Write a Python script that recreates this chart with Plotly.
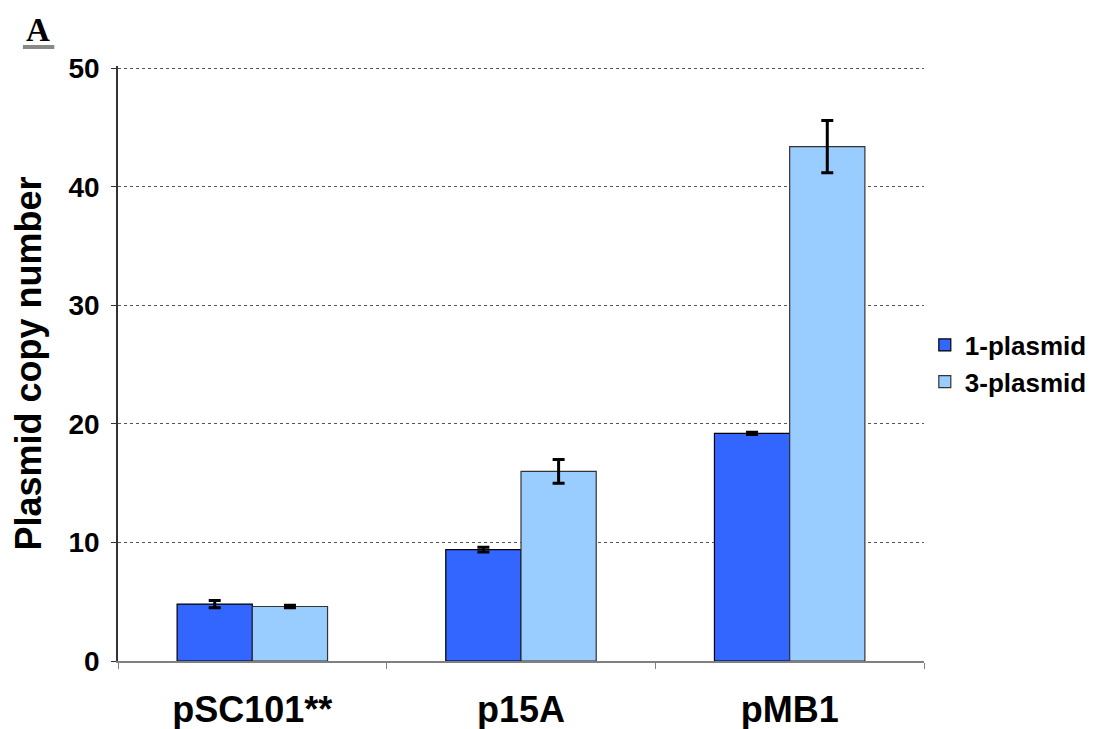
import plotly.graph_objects as go

#### data
plasmids = ["pSC101**", "p15A", "pMB1"]
one_plasmid = [4.8, 9.4, 19.2]
one_plasmid_err = [0.3, 0.2, 0.1]
three_plasmid = [4.6, 16.0, 43.4]
three_plasmid_err = [0.1, 1.0, 2.2]

font_family = "Liberation Sans, Arial, sans-serif"

fig = go.Figure()
fig.add_trace(go.Bar(
    x=plasmids, y=one_plasmid, name="1-plasmid",
    marker=dict(color="#3366ff", line=dict(color="black", width=1.2)),
    error_y=dict(type="data", array=one_plasmid_err, color="black", thickness=3, width=6),
))
fig.add_trace(go.Bar(
    x=plasmids, y=three_plasmid, name="3-plasmid",
    marker=dict(color="#99ccff", line=dict(color="#333333", width=1.2)),
    error_y=dict(type="data", array=three_plasmid_err, color="black", thickness=3, width=6),
))

# page body has an 8px margin, so the figure is a bit smaller than the window
fig.update_layout(
    width=1096, height=721,
    margin=dict(l=110, r=168, t=58, b=68),
    plot_bgcolor="white", paper_bgcolor="white",
    barmode="group", bargap=0.44, bargroupgap=0.0,
    font=dict(family=font_family, color="black"),
    legend=dict(x=1.001, y=0.5, yanchor="middle", xanchor="left",
                font=dict(size=26, family=font_family, weight="bold"), tracegroupgap=0),
    showlegend=True,
)
fig.update_xaxes(
    type="category", tickson="boundaries", ticks="outside", ticklen=6,
    tickcolor="#808080", showline=True, linecolor="#808080", linewidth=1.5,
    tickfont=dict(size=36, family=font_family, weight="bold"), ticklabelstandoff=16,
    automargin=False,
)
# range a little above 50 so the top gridline is not clipped
fig.update_yaxes(
    range=[0, 50.2], tickvals=[0, 10, 20, 30, 40, 50], ticks="outside", ticklen=5, tickcolor="#333333",
    showline=True, linecolor="#333333", linewidth=1.5,
    showgrid=True, gridcolor="#555555", griddash="3px,3px", gridwidth=1,
    tickfont=dict(size=28, family=font_family, weight="bold"), ticklabelstandoff=6,
    title=dict(text="Plasmid copy number", font=dict(size=36, family=font_family, weight="bold"),
               standoff=26),
    zeroline=False, automargin=False,
)

# panel label "A" with gray underline
fig.add_annotation(text="<b>A</b>", xref="paper", yref="paper", x=-0.099, y=1.060,
                   xanchor="center", yanchor="middle", showarrow=False,
                   font=dict(family="Liberation Serif, Times New Roman, serif", size=33))
fig.add_shape(type="line", xref="paper", yref="paper", x0=-0.118, x1=-0.079,
              y0=1.032, y1=1.032, line=dict(color="#888888", width=4))

fig.write_html("out.html")
